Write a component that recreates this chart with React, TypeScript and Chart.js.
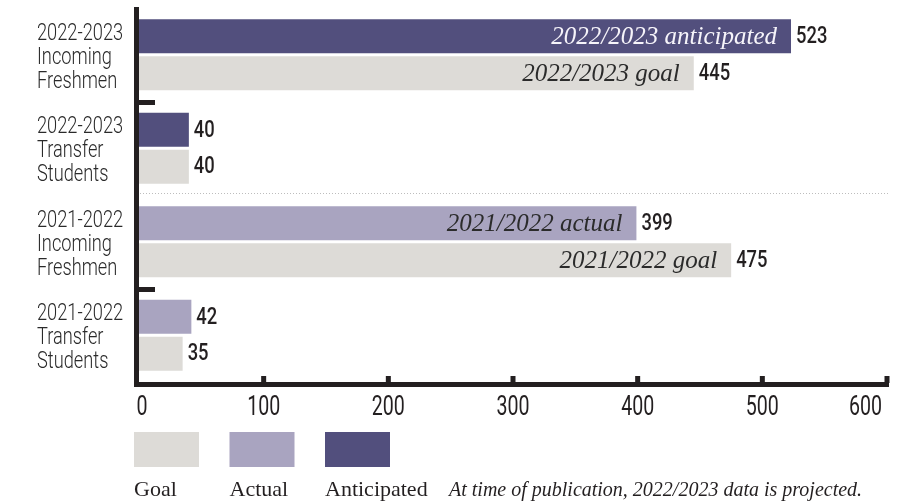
import React, { useEffect, useRef } from 'react';
import { Chart, registerables } from 'chart.js';

Chart.register(...registerables);

// ---------- data ----------
const categories: string[][] = [
  ['2022-2023', 'Incoming', 'Freshmen'],
  ['2022-2023', 'Transfer', 'Students'],
  ['2021-2022', 'Incoming', 'Freshmen'],
  ['2021-2022', 'Transfer', 'Students'],
];
const actualValues: (number | null)[] = [null, null, 399, 42];
const anticipatedValues: (number | null)[] = [523, 40, null, null];
const goalValues: (number | null)[] = [445, 40, 475, 35];

const actualNotes = ['', '', '2021/2022 actual', ''];
const anticipatedNotes = ['2022/2023 anticipated', '', '', ''];
const goalNotes = ['2022/2023 goal', '', '2021/2022 goal', ''];

const xTickValues = [0, 100, 200, 300, 400, 500, 600];
const legendOrder = ['Goal', 'Actual', 'Anticipated'];
const footnote = 'At time of publication, 2022/2023 data is projected.';

// ---------- style ----------
const GOAL = '#dddbd7';
const ACTUAL = '#a9a4c0';
const ANTICIPATED = '#524f7d';
const INK = '#231f20';
const SANS = "Roboto, 'Noto Sans', sans-serif";
const SERIF = "'Liberation Serif', 'DejaVu Serif', serif";

function narrowText(ctx: any, text: string, x: number, y: number, align: string, font: string, color: string, sx: number) {
  ctx.save();
  ctx.translate(x, y);
  ctx.scale(sx, 1);
  ctx.font = font;
  ctx.fillStyle = color;
  ctx.textAlign = align;
  ctx.textBaseline = 'middle';
  ctx.fillText(text, 0, 0);
  ctx.restore();
}

const decorPlugin = {
  id: 'decor',
  afterDatasetsDraw(chart: any) {
    const { ctx, chartArea, scales } = chart;
    const xs = scales.x;
    const ys = scales.y;
    const { left, right, top, bottom } = chartArea;
    ctx.save();

    // separators between categories
    for (let i = 0; i < categories.length - 1; i++) {
      const yb = (ys.getPixelForValue(i) + ys.getPixelForValue(i + 1)) / 2;
      if (categories[i][0] !== categories[i + 1][0]) {
        ctx.strokeStyle = '#bdbdbd';
        ctx.lineWidth = 1;
        ctx.setLineDash([1, 2]);
        ctx.beginPath();
        ctx.moveTo(left + 1, Math.round(yb) - 1.5);
        ctx.lineTo(right + 1, Math.round(yb) - 1.5);
        ctx.stroke();
        ctx.setLineDash([]);
      } else {
        ctx.fillStyle = INK;
        ctx.fillRect(left - 5, yb - 1.5, 21, 5);
      }
    }

    // axes
    ctx.fillStyle = INK;
    ctx.fillRect(left - 5, top - 1, 5, bottom + 5 - top + 1);
    ctx.fillRect(left - 5, bottom, right + 2 - (left - 5), 5);
    xTickValues.forEach((v) => {
      if (v === 0) return;
      const px = xs.getPixelForValue(v);
      ctx.fillRect(px - 2.5, bottom - 6, 5, 7);
    });

    // x tick labels
    const n = xs.ticks.length;
    xs.ticks.forEach((t: any, k: number) => {
      const px = xs.getPixelForValue(t.value);
      const last = k === n - 1;
      const first = k === 0;
      narrowText(
        ctx,
        String(t.value),
        last ? px - 5 : px + (first ? 3 : 0),
        bottom + 26,
        last ? 'right' : 'center',
        `400 28px ${SANS}`,
        INK,
        0.7,
      );
    });

    // y category labels
    categories.forEach((lines, i) => {
      const cy = ys.getPixelForValue(i);
      const lh = 24;
      lines.forEach((ln, k) => {
        narrowText(ctx, ln, 37, cy + (k - (lines.length - 1) / 2) * lh + 3, 'left', `300 24px ${SANS}`, '#2a2a2a', 0.76);
      });
    });

    // value labels and notes
    chart.data.datasets.forEach((ds: any, di: number) => {
      const meta = chart.getDatasetMeta(di);
      meta.data.forEach((el: any, i: number) => {
        const v = ds.data[i];
        if (v === null || v === undefined) return;
        narrowText(ctx, String(v), el.x + 5, el.y + 1, 'left', `500 23px ${SANS}`, INK, 0.8);
        const note = ds.notes[i];
        if (note) {
          ctx.textBaseline = 'middle';
          ctx.textAlign = 'right';
          ctx.fillStyle = ds.noteColor;
          ctx.font = `italic 25px ${SERIF}`;
          ctx.fillText(note, el.x - 14, el.y + 1);
        }
      });
    });
    ctx.restore();
  },
  afterDraw(chart: any) {
    const { ctx, chartArea } = chart;
    const x0 = chartArea.left - 5;
    ctx.save();
    const colorOf: Record<string, string> = {};
    chart.data.datasets.forEach((ds: any) => (colorOf[ds.label] = ds.backgroundColor));
    let x = x0;
    legendOrder.forEach((name) => {
      ctx.fillStyle = colorOf[name];
      ctx.fillRect(x, 432, 65, 35);
      ctx.fillStyle = INK;
      ctx.font = `22px ${SERIF}`;
      ctx.textAlign = 'left';
      ctx.textBaseline = 'alphabetic';
      ctx.fillText(name, x, 496);
      x += 95.5;
    });
    ctx.font = `italic 20px ${SERIF}`;
    ctx.fillText(footnote, 449, 496);
    ctx.restore();
  },
};

export default function App() {
  const ref = useRef<HTMLCanvasElement | null>(null);
  useEffect(() => {
    if (!ref.current) return;
    const chart = new Chart(ref.current, {
      type: 'bar',
      data: {
        labels: categories,
        datasets: [
          {
            label: 'Actual',
            data: actualValues,
            backgroundColor: ACTUAL,
            stack: 'reported',
            notes: actualNotes,
            noteColor: '#2b2b2b',
          } as any,
          {
            label: 'Anticipated',
            data: anticipatedValues,
            backgroundColor: ANTICIPATED,
            stack: 'reported',
            notes: anticipatedNotes,
            noteColor: '#f6f4fa',
          } as any,
          {
            label: 'Goal',
            data: goalValues,
            backgroundColor: GOAL,
            stack: 'goal',
            notes: goalNotes,
            noteColor: '#2b2b2b',
          } as any,
        ],
      },
      options: {
        indexAxis: 'y',
        responsive: false,
        animation: false,
        devicePixelRatio: 1,
        categoryPercentage: 0.79,
        barPercentage: 0.92,
        layout: { padding: { left: 37, top: 8, right: 18, bottom: 0 } },
        plugins: { legend: { display: false }, tooltip: { enabled: false } },
        scales: {
          x: {
            min: 0,
            max: 600,
            grid: { display: false, drawTicks: false },
            border: { display: false },
            afterBuildTicks: (s: any) => {
              s.ticks = xTickValues.map((v) => ({ value: v }));
            },
            afterFit: (s: any) => {
              s.height = 122;
              s.paddingLeft = 0;
              s.paddingRight = 0;
            },
            ticks: { display: false },
          },
          y: {
            grid: { display: false, drawTicks: false },
            border: { display: false },
            afterFit: (s: any) => {
              s.width = 102;
              s.paddingTop = 0;
              s.paddingBottom = 0;
            },
            ticks: { display: false },
          },
        },
      } as any,
      plugins: [decorPlugin],
    });
    return () => chart.destroy();
  }, []);
  return (
    <div style={{ position: 'absolute', left: 0, top: 0, width: 905, height: 504, background: '#fff' }}>
      <canvas ref={ref} width={905} height={504} style={{ display: 'block', width: 905, height: 504 }} />
    </div>
  );
}
